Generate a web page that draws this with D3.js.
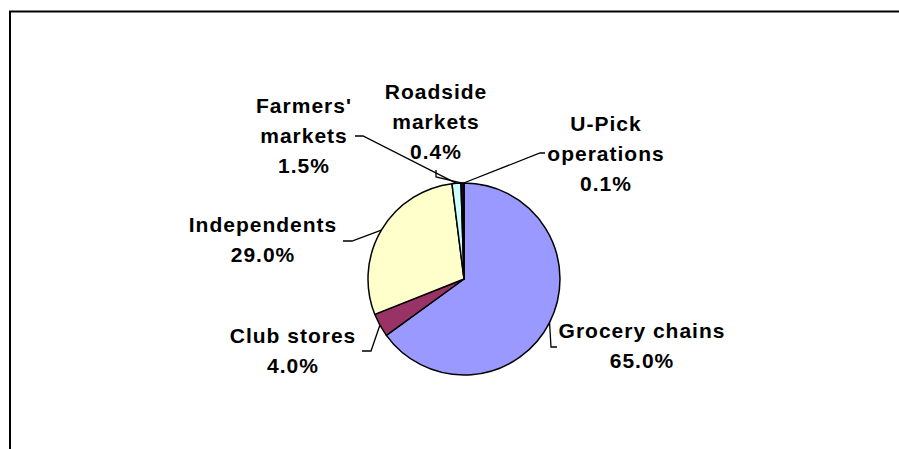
<!DOCTYPE html>
<html>
<head>
<meta charset="utf-8">
<script src="https://cdn.jsdelivr.net/npm/d3@7"></script>
<style>
  html, body { margin: 0; padding: 0; background: #fff; }
  svg { display: block; }
  .lbl { font-family: "Liberation Sans", Arial, sans-serif; font-weight: bold; font-size: 21px; letter-spacing: 1px; fill: #000; }
</style>
</head>
<body>
<svg id="chart" width="899" height="449"></svg>
<script>
// Share of sales by retail outlet (percent)
const categories = ["Grocery chains", "Club stores", "Independents", "Farmers' markets", "Roadside markets", "U-Pick operations"];
const shares = [65.0, 4.0, 29.0, 1.5, 0.4, 0.1];
const sliceColors = ["#9999FF", "#993366", "#FFFFCC", "#CCFFFF", "#660066", "#FF8080"];

// Label placement: block centre x, first baseline y, whether the name wraps,
// and the leader route (elbow, end) from the slice edge to the label.
const labelLayout = [
  { cx: 642, y: 338, split: false, elbow: [551, 347], end: [557, 347] },
  { cx: 293, y: 343, split: false, elbow: [371, 351], end: [362, 351] },
  { cx: 263, y: 232, split: false, elbow: [352, 241], end: [343, 241] },
  { cx: 304, y: 113, split: true,  elbow: [363, 136], end: [355, 136] },
  { cx: 436, y: 99,  split: true,  elbow: [436, 177], end: [436, 170] },
  { cx: 606, y: 131, split: true,  elbow: [540, 153], end: [545, 153] }
];

const lineGap = 30;
const cx = 464, cy = 279, radius = 96;

const svg = d3.select("#chart");

// Chart area frame (right and bottom edges run past the view)
svg.append("rect")
  .attr("x", 10).attr("y", 11.5)
  .attr("width", 1000).attr("height", 600)
  .attr("fill", "none").attr("stroke", "#000").attr("stroke-width", 2);

const pie = d3.pie().sort(null).value(d => d)(shares);
const arc = d3.arc().innerRadius(0).outerRadius(radius);
const edge = d3.arc().innerRadius(radius).outerRadius(radius);

const g = svg.append("g").attr("transform", `translate(${cx},${cy})`);

g.selectAll("path.slice")
  .data(pie)
  .join("path")
  .attr("class", "slice")
  .attr("d", arc)
  .attr("fill", (d, i) => sliceColors[i])
  .attr("stroke", "#000")
  .attr("stroke-width", 1.5)
  .attr("stroke-linejoin", "round");

// Leader lines
const line = d3.line();
svg.selectAll("path.leader")
  .data(pie)
  .join("path")
  .attr("class", "leader")
  .attr("fill", "none")
  .attr("stroke", "#000")
  .attr("stroke-width", 1.3)
  .attr("d", (d, i) => {
    const p = edge.centroid(d);
    const L = labelLayout[i];
    return line([[cx + p[0], cy + p[1]], L.elbow, L.end]);
  });

// Labels: name (possibly wrapped) plus percentage
const fmt = d3.format(".1f");
categories.forEach((name, i) => {
  const L = labelLayout[i];
  let lines;
  if (L.split) {
    const k = name.indexOf(" ");
    lines = [name.slice(0, k), name.slice(k + 1)];
  } else {
    lines = [name];
  }
  lines.push(fmt(shares[i]) + "%");
  const t = svg.append("text").attr("class", "lbl").attr("text-anchor", "middle");
  lines.forEach((s, j) => {
    t.append("tspan").attr("x", L.cx).attr("y", L.y + j * lineGap).text(s);
  });
});
</script>
</body>
</html>
